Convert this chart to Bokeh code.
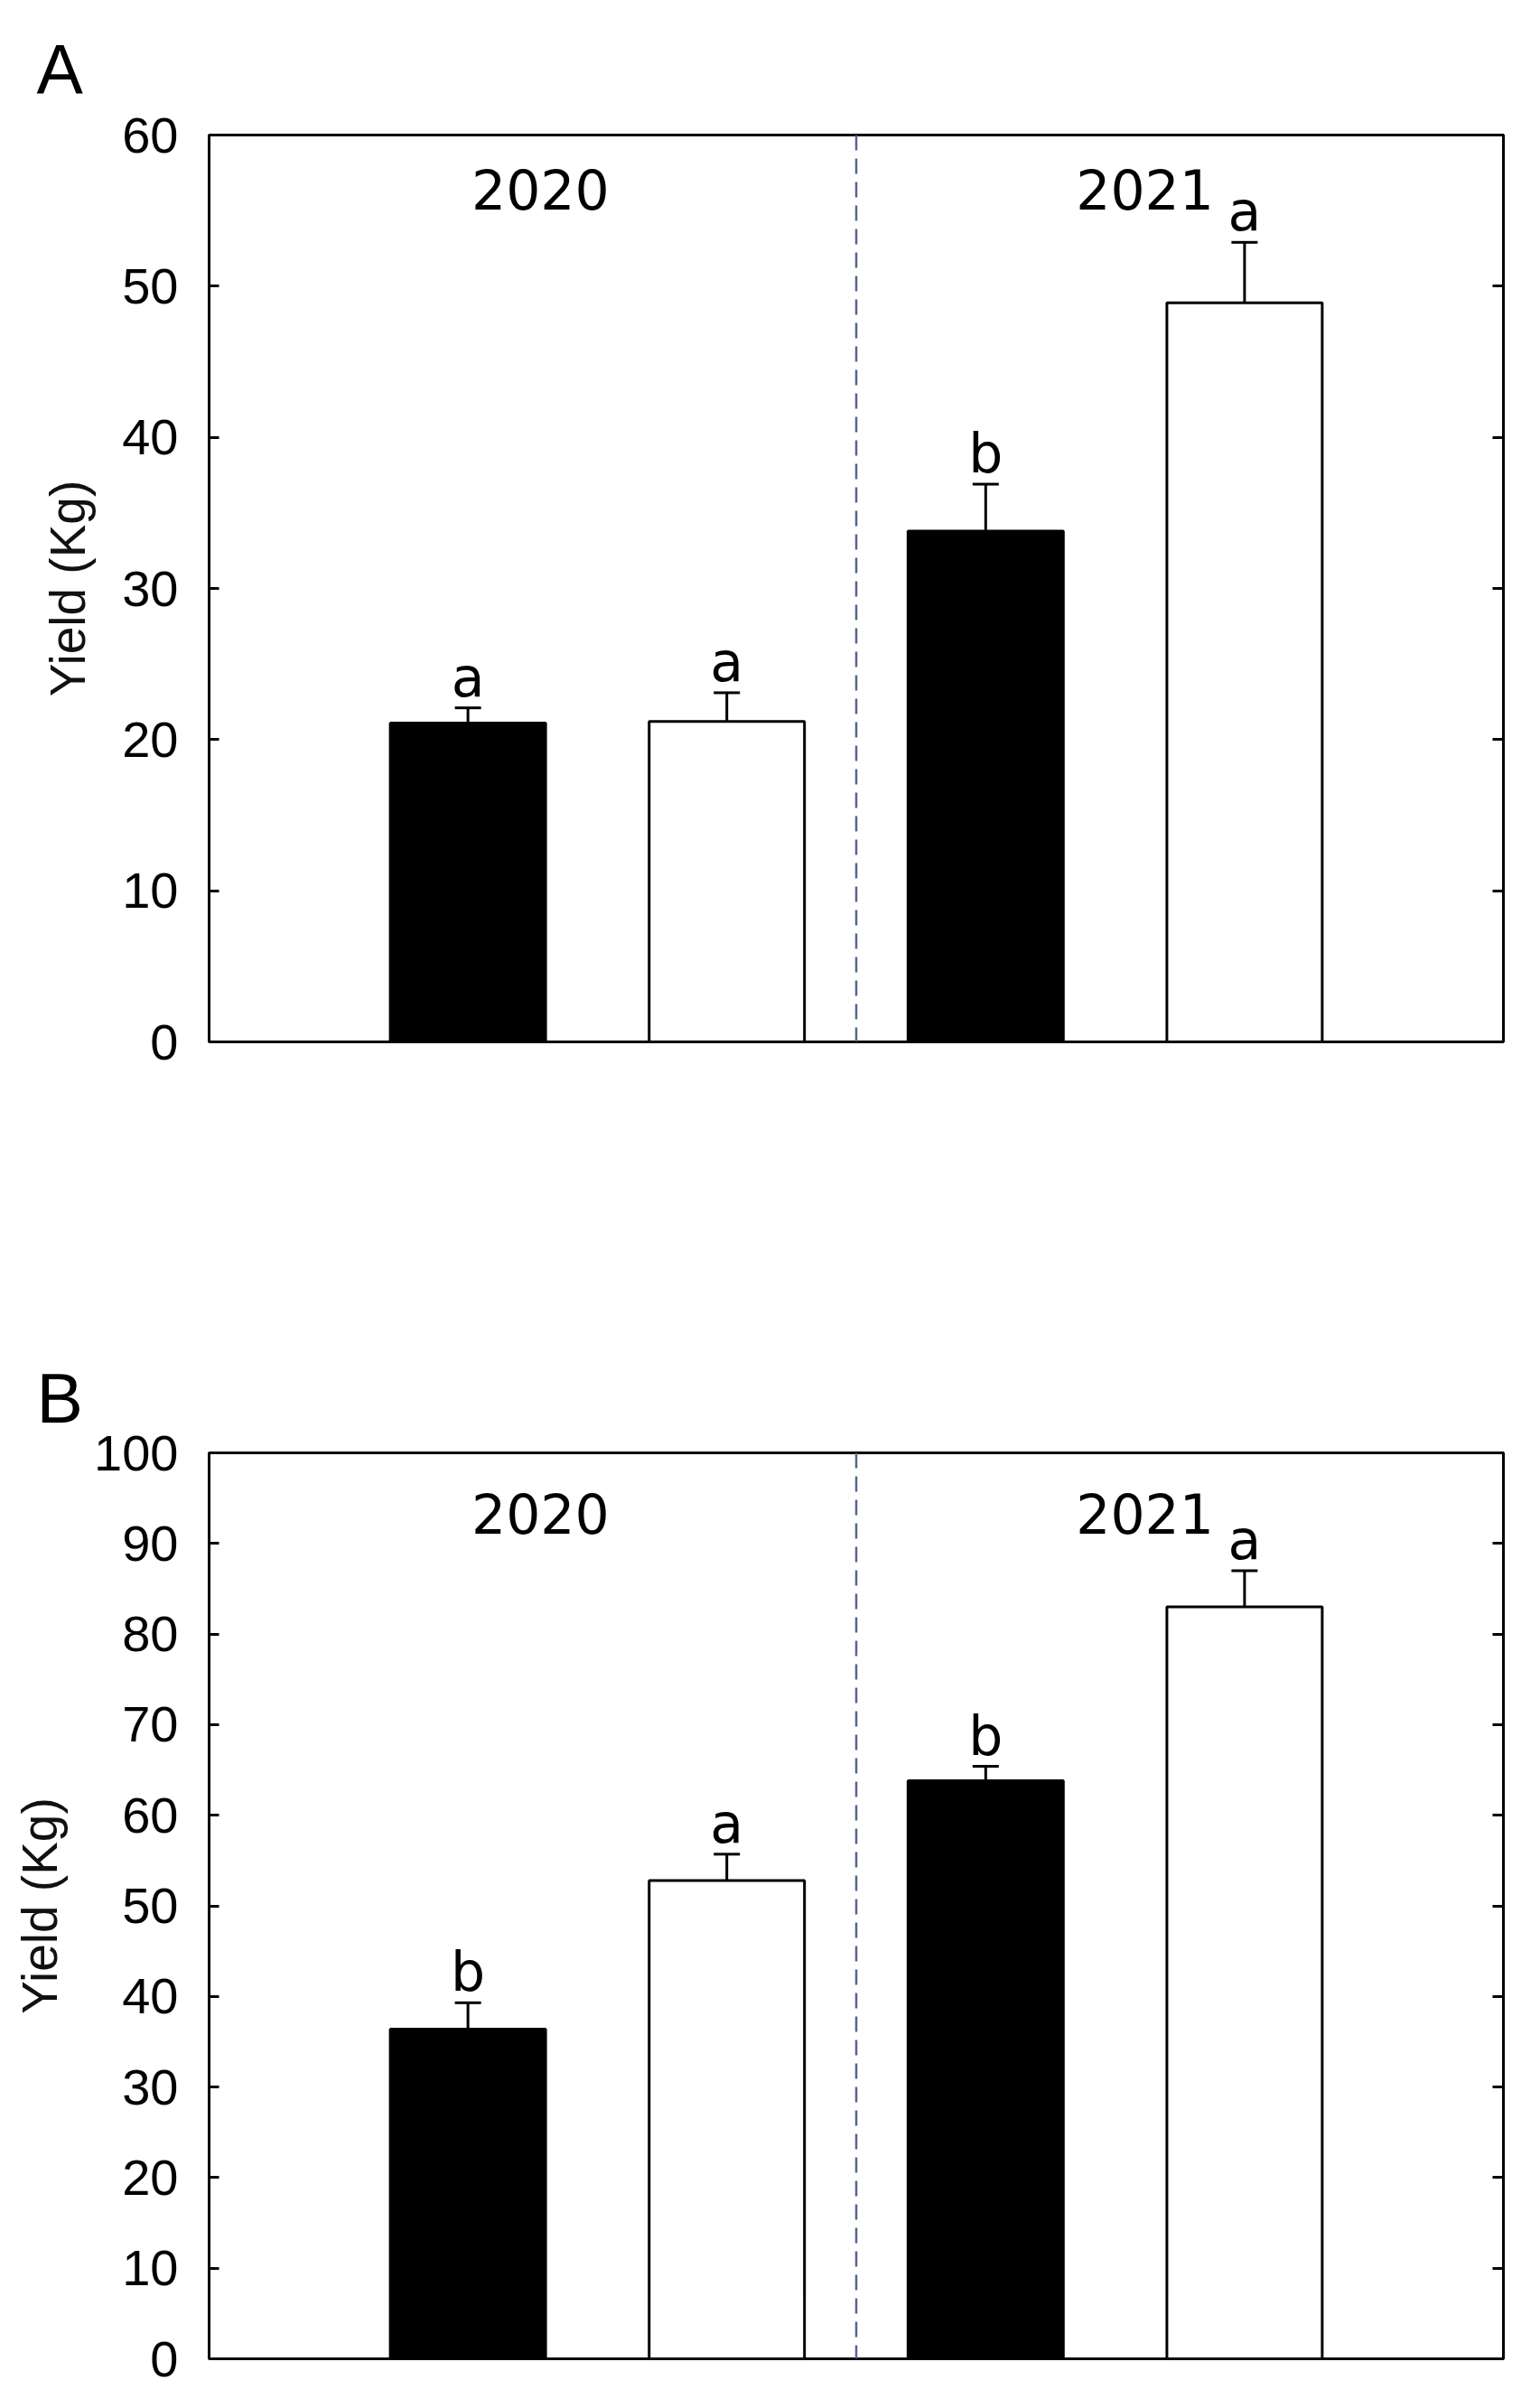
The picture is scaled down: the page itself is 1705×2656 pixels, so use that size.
from bokeh.plotting import figure
from bokeh.models import (Range1d, LinearAxis, Span, ColumnDataSource, Whisker,
                          TeeHead, LabelSet, SingleIntervalTicker, CustomJSTickFormatter)
from bokeh.layouts import column
from bokeh.embed import file_html
from bokeh.resources import INLINE
from bokeh.core.properties import value

# ---- data ----
treatments = ["2020 T1", "2020 T2", "2021 T1", "2021 T2"]
bar_colors = ["black", "white", "black", "white"]
years = ["2020", "2021"]
year_label_x = [1.28, 3.615]

yield_a = [21.1, 21.2, 33.8, 48.9]
err_a = [1.0, 1.9, 3.1, 4.0]
letters_a = ["a", "a", "b", "a"]

yield_b = [36.4, 52.8, 63.8, 83.0]
err_b = [2.9, 2.9, 1.6, 4.0]
letters_b = ["b", "a", "b", "a"]

TICK_FONT = "Liberation Sans"
ANNOT_FONT = "DejaVu Sans"


def make_panel(tag, vals, errs, letters, ymax, year_y, height, b_top, b_bottom, title_standoff):
    xs = [i + 1 for i in range(len(treatments))]
    src = ColumnDataSource(dict(
        x=xs, top=vals, upper=[v + e for v, e in zip(vals, errs)],
        color=bar_colors, letter=letters))

    p = figure(x_range=Range1d(0, len(treatments) + 1), y_range=Range1d(0, ymax),
               width=1697, height=height,
               min_border_left=231, min_border_right=33,
               min_border_top=b_top, min_border_bottom=b_bottom,
               output_backend="svg", toolbar_location=None, tools="")
    p.background_fill_color = "white"
    p.border_fill_color = "white"
    p.outline_line_color = "black"
    p.outline_line_width = 3
    p.xgrid.visible = False
    p.ygrid.visible = False
    p.xaxis.visible = False

    p.title.text = tag
    p.title.text_font = TICK_FONT
    p.title.text_font_size = "77px"
    p.title.text_font_style = "normal"
    p.title.text_color = "black"
    p.title.align = "left"
    p.title.offset = -191
    p.title.standoff = title_standoff

    ya = p.yaxis[0]
    ya.ticker = SingleIntervalTicker(interval=10)
    ya.major_tick_in = 11
    ya.major_tick_out = 0
    ya.minor_tick_line_color = None
    ya.major_tick_line_width = 3
    ya.axis_line_width = 3
    ya.major_label_text_font = TICK_FONT
    ya.major_label_text_font_size = "56px"
    ya.major_label_text_color = "black"
    ya.major_label_standoff = 30
    ya.axis_label = "Yield (Kg)"
    ya.axis_label_text_font = TICK_FONT
    ya.axis_label_text_font_size = "55px"
    ya.axis_label_text_font_style = "normal"
    ya.axis_label_text_color = "#111111"
    ya.axis_label_standoff = 26

    ra = LinearAxis(ticker=SingleIntervalTicker(interval=10),
                    formatter=CustomJSTickFormatter(code="return ''"))
    ra.major_label_standoff = 0
    ra.major_tick_in = 12
    ra.major_tick_out = 0
    ra.major_tick_line_width = 3
    ra.minor_tick_line_color = None
    ra.axis_line_width = 3
    p.add_layout(ra, "right")

    p.vbar(x="x", top="top", bottom=0, width=0.6, fill_color="color",
           line_color="black", line_width=3, source=src)

    p.add_layout(Whisker(base="x", lower="top", upper="upper", source=src,
                         line_color="black", line_width=3,
                         upper_head=TeeHead(size=29, line_color="black", line_width=3),
                         lower_head=None))

    p.add_layout(LabelSet(x="x", y="upper", text="letter", source=src,
                          y_offset=13, text_align="center", text_baseline="alphabetic",
                          text_font=value(ANNOT_FONT), text_font_size="60px",
                          text_color="black"))

    p.add_layout(Span(location=(len(treatments) + 1) / 2, dimension="height",
                      line_color="#58648c", line_width=2.5, line_dash="17 9"))

    p.text(x=year_label_x, y=[year_y] * len(years), text=years,
           text_align="center", text_baseline="middle",
           text_font=value(ANNOT_FONT), text_font_size="60px", text_color="black")
    return p


pa = make_panel("A", yield_a, err_a, letters_a, 60, 56.4, 1400, 149, 247, 60)
pb = make_panel("B", yield_b, err_b, letters_b, 100, 93.3, 1236, 208, 25, 35)

layout = column(pa, pb)
open("out.html", "w").write(file_html(layout, INLINE))
